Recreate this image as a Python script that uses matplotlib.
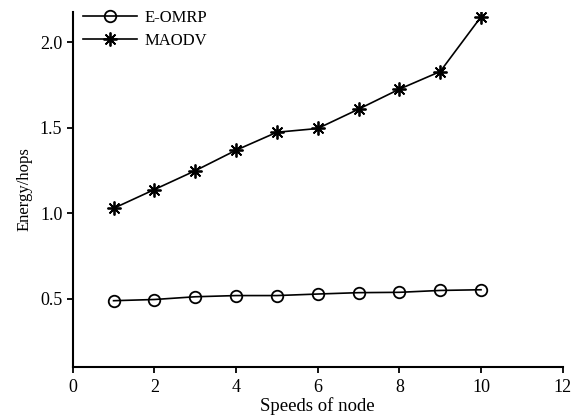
import matplotlib
matplotlib.use('Agg')
import matplotlib.pyplot as plt

plt.rcParams['font.family'] = ['Liberation Serif', 'DejaVu Serif']

# dane
predkosci = [1, 2, 3, 4, 5, 6, 7, 8, 9, 10]
eomrp = [0.49, 0.497, 0.513, 0.52, 0.52, 0.529, 0.537, 0.539, 0.55, 0.554]
maodv = [1.03, 1.14, 1.25, 1.37, 1.475, 1.497, 1.61, 1.727, 1.83, 2.15]

fig = plt.figure(figsize=(5.79, 4.19), dpi=100)
ax = fig.add_axes([0.1256, 0.1248, 0.8462, 0.8473])

ax.plot(predkosci, eomrp, color='black', marker='o', markerfacecolor='none',
        markersize=8.3, markeredgewidth=1.3, linewidth=1.2, label='E-OMRP')
ax.plot(predkosci, maodv, color='black', marker=(8, 2, 0), markersize=10,
        markeredgewidth=1.3, linewidth=1.2, label='MAODV')

ax.set_xlim(0, 12)
ax.set_ylim(0.104, 2.18)
ax.set_xticks([0, 2, 4, 6, 8, 10, 12])
ax.set_yticks([0.5, 1.0, 1.5, 2.0])
ax.set_yticklabels(['0.5', '1.0', '1.5', '2.0'])

ax.spines['top'].set_visible(False)
ax.spines['right'].set_visible(False)
ax.spines['left'].set_linewidth(1.5)
ax.spines['bottom'].set_linewidth(1.5)
ax.tick_params(direction='out', length=4.5, width=1.3, labelsize=13)
ax.tick_params(axis='x', pad=4)
ax.tick_params(axis='y', pad=3)

ax.set_xlabel('Speeds of node', fontsize=13.5, labelpad=1)
ax.set_ylabel('Energy/hops', fontsize=12, labelpad=5)

ax.legend(loc='upper left', bbox_to_anchor=(0.021, 1.005), frameon=False,
          fontsize=12, handlelength=3.25, handletextpad=0.45, labelspacing=0.4,
          borderaxespad=0, borderpad=0)

fig.savefig('out.png', dpi=100)
